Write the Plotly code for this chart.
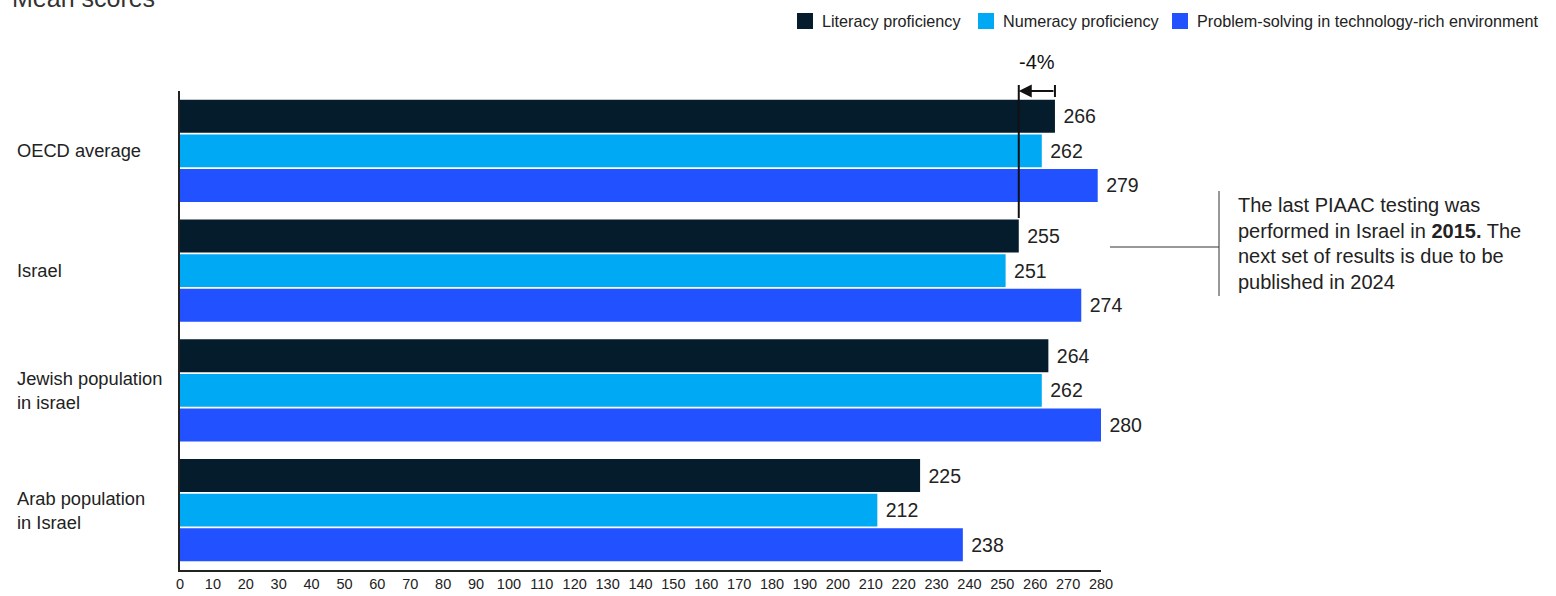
import plotly.graph_objects as go

# ---- data -------------------------------------------------------------
categories = ["OECD average", "Israel", "Jewish population<br>in israel", "Arab population<br>in Israel"]
series_names = ["Literacy proficiency", "Numeracy proficiency",
                "Problem-solving in technology-rich environment"]
literacy = [266, 255, 264, 225]
numeracy = [262, 251, 262, 212]
problem_solving = [279, 274, 280, 238]
x_ticks = list(range(0, 281, 10))

note_lines = ["The last PIAAC testing was",
              "performed in Israel in <b>2015.</b> The",
              "next set of results is due to be",
              "published in 2024"]
gap_label = "-4%"

# ---- styling ----------------------------------------------------------
colors = ["#051C2C", "#00A9F4", "#2251FF"]
FONT = "Liberation Sans, Arial, sans-serif"
TXT = "#222222"

W, H = 1556, 596
L, R, T, B = 180, 455, 91, 26
plot_w = W - L - R
plot_h = H - T - B


def px_x(px):
    return (px - L) / plot_w


def px_y(py):
    return (H - B - py) / plot_h


fig = go.Figure()
y_idx = list(range(len(categories)))
for name, vals, col in zip(series_names, [literacy, numeracy, problem_solving], colors):
    fig.add_trace(go.Bar(
        y=y_idx, x=vals, orientation="h", name=name,
        marker=dict(color=col, line=dict(width=0)),
        text=vals, texttemplate="\u00a0%{x}", textposition="outside",
        textfont=dict(size=19.5, color=TXT, family=FONT),
        constraintext="none", cliponaxis=False, showlegend=False,
    ))

fig.update_layout(
    width=W, height=H,
    margin=dict(l=L, r=R, t=T, b=B),
    paper_bgcolor="white", plot_bgcolor="white",
    barmode="group", bargap=0.133, bargroupgap=0.05,
    font=dict(family=FONT, color=TXT),
    xaxis=dict(range=[0, 280], tickvals=x_ticks, showgrid=False, zeroline=False,
               showline=True, linecolor="#222222", linewidth=1.5, ticks="",
               automargin=False,
               tickfont=dict(size=14.5, color=TXT, family=FONT)),
    yaxis=dict(range=[len(categories) - 0.5, -0.5], showgrid=False, zeroline=False,
               showline=True, linecolor="#222222", linewidth=1.5,
               automargin=False, showticklabels=False, ticks=""),
)

annotations = []
shapes = []

# category labels, left aligned
for i, c in enumerate(categories):
    annotations.append(dict(x=px_x(15), xref="paper", y=i, yref="y", text=c,
                            xanchor="left", yanchor="middle", align="left",
                            showarrow=False, font=dict(size=18.3, color=TXT, family=FONT)))

# chart title (runs off the top of the page)
annotations.append(dict(x=px_x(10), xref="paper", y=px_y(14), yref="paper",
                        text="Mean scores", xanchor="left", yanchor="bottom",
                        showarrow=False, font=dict(size=25, color="#333333", family=FONT)))

# legend drawn as swatches + labels
legend_sw = [797, 978, 1172]
for name, col, sx in zip(series_names, colors, legend_sw):
    shapes.append(dict(type="rect", xref="paper", yref="paper",
                       x0=px_x(sx), x1=px_x(sx + 16), y0=px_y(29), y1=px_y(13),
                       fillcolor=col, line=dict(width=0)))
    annotations.append(dict(x=px_x(sx + 23), xref="paper", y=px_y(21), yref="paper",
                            text=name, xanchor="left", yanchor="middle",
                            showarrow=False, font=dict(size=16.2, color=TXT, family=FONT)))

# gap marker between OECD and Israel literacy
oecd_lit, isr_lit = literacy[0], literacy[1]
shapes.append(dict(type="line", xref="x", yref="paper", x0=isr_lit, x1=isr_lit,
                   y0=px_y(218), y1=px_y(85), line=dict(color="#111111", width=2)))
shapes.append(dict(type="line", xref="x", yref="paper", x0=oecd_lit, x1=oecd_lit,
                   y0=px_y(97), y1=px_y(85), line=dict(color="#111111", width=2)))
annotations.append(dict(x=isr_lit, xref="x", y=px_y(91), yref="paper",
                        ax=oecd_lit, axref="x", ay=0, ayref="pixel",
                        text="", showarrow=True, arrowhead=2, arrowsize=1.3,
                        arrowwidth=2, arrowcolor="#111111", standoff=0, startstandoff=0))
annotations.append(dict(x=(isr_lit + oecd_lit) / 2, xref="x", y=px_y(62), yref="paper",
                        text=gap_label, xanchor="center", yanchor="middle",
                        showarrow=False, font=dict(size=20, color="#111111", family=FONT)))

# side note with bracket
shapes.append(dict(type="line", xref="paper", yref="paper", x0=px_x(1219), x1=px_x(1219),
                   y0=px_y(296), y1=px_y(191), line=dict(color="#333333", width=1)))
shapes.append(dict(type="line", xref="paper", yref="paper", x0=px_x(1110), x1=px_x(1219),
                   y0=px_y(247), y1=px_y(247), line=dict(color="#333333", width=1)))
for k, line in enumerate(note_lines):
    annotations.append(dict(x=px_x(1236), xref="paper", y=px_y(205 + 25.5 * k), yref="paper",
                            text=line, xanchor="left", yanchor="middle", align="left",
                            showarrow=False, font=dict(size=20, color=TXT, family=FONT)))

fig.update_layout(annotations=annotations, shapes=shapes)
fig.write_html("out.html")
